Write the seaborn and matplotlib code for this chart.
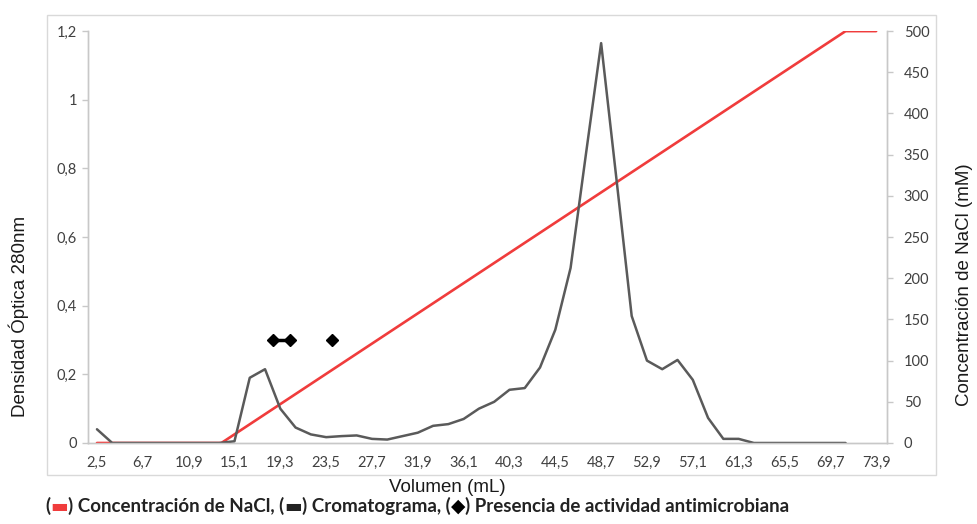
import matplotlib
matplotlib.use("Agg")
import numpy as np
import matplotlib.pyplot as plt
import seaborn as sns
from matplotlib.patches import Rectangle

# Volumes (mL) of the collected fractions
volumen = [2.5, 3.9, 5.3, 6.7, 8.1, 9.5, 10.9, 12.3, 13.7, 15.1,
           16.5, 17.9, 19.3, 20.7, 22.1, 23.5, 24.9, 26.3, 27.7, 29.1,
           30.5, 31.9, 33.3, 34.7, 36.1, 37.5, 38.9, 40.3, 41.7, 43.1,
           44.5, 45.9, 47.3, 48.7, 50.1, 51.5, 52.9, 54.3, 55.7, 57.1,
           58.5, 59.9, 61.3, 62.7, 64.1, 65.5, 66.9, 68.3, 69.7, 71.1]
# Absorbance 280 nm
densidad = [0.04, 0.0, 0.0, 0.0, 0.0, 0.0, 0.0, 0.0, 0.0, 0.005,
            0.19, 0.215, 0.10, 0.045, 0.025, 0.017, 0.02, 0.022, 0.012, 0.01,
            0.02, 0.03, 0.05, 0.055, 0.07, 0.10, 0.12, 0.155, 0.16, 0.22,
            0.33, 0.51, 0.84, 1.165, 0.77, 0.37, 0.24, 0.215, 0.242, 0.184,
            0.073, 0.012, 0.012, 0.0, 0.0, 0.0, 0.0, 0.0, 0.0, 0.0]

# NaCl gradient breakpoints
vol_nacl = [2.5, 13.9, 71.1, 73.9]
conc_nacl = [0, 0, 500, 500]

# fractions with antimicrobial activity
vol_act = [18.6, 20.2, 22.1, 24.0]
dens_act = [0.3, 0.3, np.nan, 0.3]

xtick_vals = [2.5, 6.7, 10.9, 15.1, 19.3, 23.5, 27.7, 31.9, 36.1, 40.3,
              44.5, 48.7, 52.9, 57.1, 61.3, 65.5, 69.7, 73.9]

sns.set_style("white")
plt.rcParams['font.family'] = ['Lato', 'DejaVu Sans']

RED = "#F03C3C"
GRAY = "#5A5A5A"
TICKC = "#404040"
SPINE = "#C8C8C8"

fig = plt.figure(figsize=(9.78, 5.24), dpi=100)
ax = fig.add_axes([0.09, 0.1546, 0.817, 0.786])
ax2 = ax.twinx()

sns.lineplot(x=volumen, y=densidad, ax=ax, color=GRAY, linewidth=1.8, zorder=2)
sns.lineplot(x=vol_nacl, y=conc_nacl, ax=ax2, color=RED, linewidth=1.9, zorder=3)
ax.plot(vol_act, dens_act, color="black", linewidth=2.5, marker="D",
        markersize=6.5, zorder=4)

ax.set_xlim(1.68, 74.9)
ax.set_ylim(0, 1.2)
ax2.set_ylim(0, 500)

ax.set_xticks(xtick_vals)
ax.set_xticklabels([f"{v:.1f}".replace(".", ",") for v in xtick_vals])
ax.set_yticks([0, 0.2, 0.4, 0.6, 0.8, 1.0, 1.2])
ax.set_yticklabels(["0", "0,2", "0,4", "0,6", "0,8", "1", "1,2"])
ax2.set_yticks(range(0, 501, 50))

for a in (ax, ax2):
    for s in a.spines.values():
        s.set_color(SPINE)
        s.set_linewidth(1)
    a.spines['top'].set_visible(False)
    a.set_xlabel("")
    a.set_ylabel("")
ax.tick_params(axis='x', length=0, pad=9, labelsize=10.5, colors=TICKC)
ax.tick_params(axis='y', length=4, width=1, color=SPINE, pad=4, labelsize=10.5,
               labelcolor=TICKC, direction='out')
ax2.tick_params(axis='y', length=4, width=1, color=SPINE, pad=8, labelsize=10.5,
                labelcolor=TICKC, direction='out')
ax.set_zorder(ax2.get_zorder() + 1)
ax.patch.set_visible(False)

# axis titles
title_kw = dict(ha='center', va='center', fontsize=13.5,
                family='Liberation Sans', color="#1A1A1A")
fig.text(447 / 978, 1 - 488 / 524, "Volumen (mL)", **title_kw)
fig.text(19 / 978, 1 - 316 / 524, "Densidad Óptica 280nm", rotation=90, **title_kw)
fig.text(965 / 978, 1 - 285 / 524, "Concentración de NaCl (mM)", rotation=90,
         **title_kw)

# chart frame
fig.patches.append(Rectangle((47 / 978, 1 - 475 / 524), 889 / 978, 460 / 524,
                             transform=fig.transFigure, fill=False,
                             edgecolor="#D9D9D9", linewidth=1))

# caption-style legend with coloured glyphs, pieces placed one after another
parts = [("(", "#222222"), ("▬", RED), (") Concentración de NaCl, (", "#222222"),
         ("▬", "#222222"), (") Cromatograma, (", "#222222"), ("◆", "black"),
         (") Presencia de actividad antimicrobiana", "#222222")]
fig.canvas.draw()
renderer = fig.canvas.get_renderer()
x_px = 45
for txt, col in parts:
    t = fig.text(x_px / fig.bbox.width, 1 - 512 / 524, txt, color=col,
                 fontsize=13.5, fontweight='bold', va='baseline')
    x_px = t.get_window_extent(renderer).x1

fig.savefig("out.png", dpi=100)
